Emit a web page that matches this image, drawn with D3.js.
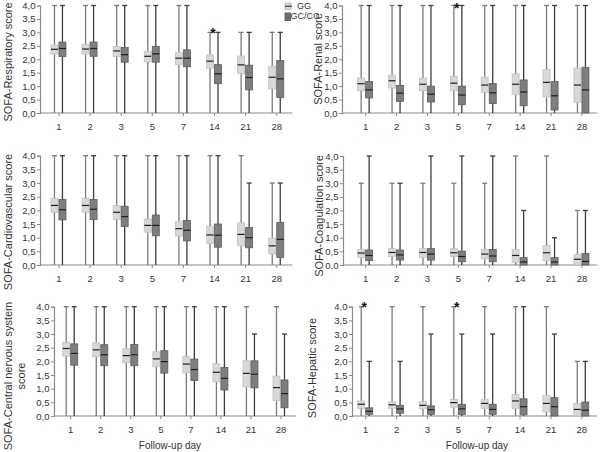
<!DOCTYPE html>
<html><head><meta charset="utf-8">
<script src="https://cdn.jsdelivr.net/npm/d3@7"></script>
<style>body{margin:0;background:#fff}svg{display:block}</style>
</head><body>
<script>
// ---------- DATA ----------
const days = ["1", "2", "3", "5", "7", "14", "21", "28"];
const groups = ["GG", "GC/CC"];
const yTicks = [0, 0.5, 1, 1.5, 2, 2.5, 3, 3.5, 4];
const xTitle = "Follow-up day";

// each entry: [min, q1, median, q3, max]
const respiratoryGG = [[0,2.19,2.37,2.53,4],[0,2.19,2.38,2.56,4],[0,2.10,2.31,2.48,4],[0,1.90,2.11,2.30,4],[0,1.81,2.04,2.26,4],[0,1.67,1.93,2.16,3],[0,1.46,1.79,2.12,3],[0,0.90,1.33,1.74,3]];
const respiratoryGC = [[0,2.10,2.40,2.64,4],[0,2.11,2.40,2.64,4],[0,1.89,2.17,2.44,4],[0,1.89,2.20,2.48,4],[0,1.72,2.04,2.35,4],[0,1.09,1.46,1.80,3],[0,0.86,1.32,1.78,3],[0,0.58,1.27,1.95,3]];
const renalGG = [[0,0.83,1.09,1.30,4],[0,0.93,1.20,1.41,4],[0,0.83,1.07,1.30,4],[0,0.83,1.11,1.37,4],[0,0.77,1.04,1.33,4],[0,0.68,1.07,1.46,4],[0,0.60,1.14,1.62,4],[0,0.40,1.04,1.67,4]];
const renalGC = [[0,0.56,0.86,1.17,4],[0,0.43,0.74,1.02,4],[0,0.41,0.70,1.00,4],[0,0.31,0.67,1.00,4],[0,0.35,0.75,1.10,4],[0,0.27,0.78,1.23,4],[0,0.11,0.64,1.17,4],[0,0.00,0.86,1.70,4]];
const cardiovascularGG = [[0,1.93,2.18,2.44,4],[0,1.93,2.18,2.44,4],[0,1.67,1.93,2.18,4],[0,1.20,1.45,1.68,4],[0,1.06,1.33,1.60,4],[0,0.79,1.10,1.41,4],[0,0.70,1.12,1.54,4],[0,0.40,0.70,0.98,3]];
const cardiovascularGC = [[0,1.65,2.02,2.40,4],[0,1.66,2.04,2.40,4],[0,1.41,1.77,2.15,4],[0,1.07,1.45,1.83,4],[0,0.88,1.27,1.63,4],[0,0.65,1.09,1.50,4],[0,0.63,1.00,1.37,3],[0,0.28,0.94,1.56,3]];
const coagulationGG = [[0,0.28,0.44,0.57,3],[0,0.31,0.46,0.60,3],[0,0.28,0.46,0.60,3],[0,0.31,0.45,0.60,3],[0,0.23,0.40,0.57,3],[0,0.10,0.35,0.57,4],[0,0.16,0.45,0.72,4],[0,0.00,0.21,0.39,2]];
const coagulationGC = [[0,0.16,0.35,0.55,4],[0,0.18,0.37,0.55,3],[0,0.18,0.40,0.60,4],[0,0.12,0.31,0.51,4],[0,0.12,0.33,0.57,4],[0,0.00,0.11,0.27,2],[0,0.00,0.11,0.27,1],[0,0.00,0.13,0.42,2]];
const cnsGG = [[0,2.19,2.47,2.70,4],[0,2.17,2.42,2.68,4],[0,1.95,2.21,2.46,4],[0,1.80,2.09,2.35,4],[0,1.58,1.90,2.17,4],[0,1.25,1.60,1.91,4],[0,1.07,1.56,2.02,4],[0,0.57,1.04,1.46,4]];
const cnsGC = [[0,1.86,2.29,2.64,4],[0,1.84,2.24,2.61,4],[0,1.84,2.24,2.62,4],[0,1.57,1.99,2.39,4],[0,1.30,1.70,2.08,4],[0,0.95,1.38,1.78,4],[0,1.03,1.53,2.02,3],[0,0.30,0.82,1.32,3]];
const hepaticGG = [[0,0.28,0.43,0.55,4],[0,0.28,0.41,0.52,4],[0,0.26,0.39,0.52,4],[0,0.32,0.49,0.61,4],[0,0.28,0.46,0.61,4],[0,0.28,0.55,0.79,4],[0,0.15,0.46,0.76,4],[0,0.00,0.24,0.46,2]];
const hepaticGC = [[0,0.06,0.17,0.30,2],[0,0.10,0.26,0.39,2],[0,0.06,0.23,0.37,3],[0,0.06,0.26,0.43,3],[0,0.06,0.24,0.43,3],[0,0.04,0.34,0.63,4],[0,0.00,0.34,0.67,3],[0,0.00,0.21,0.51,2]];

const respiratorySig = ["14"];
const renalSig = ["5"];
const cardiovascularSig = [];
const coagulationSig = [];
const cnsSig = [];
const hepaticSig = ["1", "5"];

const titles = ["SOFA-Respiratory score", "SOFA-Renal score", "SOFA-Cardiovascular score",
  "SOFA-Coagulation score", ["SOFA-Central nervous system", "score"], "SOFA-Hepatic score"];

// ---------- LAYOUT ----------
const panels = [
  {gg: respiratoryGG, gc: respiratoryGC, sig: respiratorySig, title: titles[0], ax: 40, xr: [43.4, 292.3], yr: [113, 5.5], tx: 8, ty: 62, xt: false},
  {gg: renalGG, gc: renalGC, sig: renalSig, title: titles[1], ax: 342, xr: [350.2, 597.4], yr: [113, 5.5], tx: 318, ty: 59, xt: false},
  {gg: cardiovascularGG, gc: cardiovascularGC, sig: cardiovascularSig, title: titles[2], ax: 40, xr: [43.4, 292.3], yr: [265, 155.7], tx: 8, ty: 222, xt: false},
  {gg: coagulationGG, gc: coagulationGC, sig: coagulationSig, title: titles[3], ax: 343, xr: [350.2, 597.4], yr: [265, 156], tx: 319, ty: 216, xt: false},
  {gg: cnsGG, gc: cnsGC, sig: cnsSig, title: titles[4], ax: 54, xr: [55.7, 296], yr: [416, 306.7], tx: 8, ty: 376, xt: true, xtx: 170},
  {gg: hepaticGG, gc: hepaticGC, sig: hepaticSig, title: titles[5], ax: 352, xr: [350.3, 597.2], yr: [416, 306.7], tx: 312, ty: 368, xt: true, xtx: 477}
];

const FONT = "'Liberation Sans', Arial, sans-serif";
const AXC = "#8a8a8a", TXT = "#333";
const fmt = d => d3.format(".1f")(d).replace(".", ",");

const svg = d3.select("body").append("svg").attr("width", 600).attr("height", 452)
  .style("font-family", FONT);

panels.forEach(p => {
  const x = d3.scaleBand().domain(days).range(p.xr);
  const y = d3.scaleLinear().domain([0, 4]).range(p.yr);
  const g = svg.append("g");

  // y axis
  const ya = g.append("g").attr("transform", `translate(${p.ax},0)`)
    .call(d3.axisLeft(y).tickValues(yTicks).tickFormat(fmt).tickSize(3).tickPadding(1.5));
  ya.select(".domain").attr("stroke", AXC).attr("stroke-width", 1.2);
  ya.selectAll(".tick line").attr("stroke", AXC);
  ya.selectAll("text").attr("fill", TXT).style("font-size", "9.5px").style("font-family", FONT);

  // x axis
  const xa = g.append("g").attr("transform", `translate(0,${y(0)})`)
    .call(d3.axisBottom(x).tickSize(3).tickPadding(7));
  xa.select(".domain").remove();
  g.append("line").attr("x1", p.ax).attr("x2", p.xr[1]).attr("y1", y(0)).attr("y2", y(0))
    .attr("stroke", AXC).attr("stroke-width", 1.2);
  xa.selectAll(".tick line").attr("stroke", AXC);
  xa.selectAll("text").attr("fill", TXT).style("font-size", "9.5px").style("font-family", FONT);

  // title
  const t = g.append("text").attr("transform", `translate(${p.tx},${p.ty}) rotate(-90)`)
    .attr("text-anchor", "middle").attr("fill", TXT).style("font-size", "11px");
  if (Array.isArray(p.title)) {
    p.title.forEach((s, i) => t.append("tspan").attr("x", 0).attr("dy", i === 0 ? "0.35em" : "1.15em").text(s));
  } else {
    t.attr("dy", "0.35em").text(p.title);
  }

  if (p.xt) {
    g.append("text").attr("x", p.xtx).attr("y", 445).attr("dy", "0.35em")
      .attr("text-anchor", "middle").attr("fill", TXT).style("font-size", "10px").text(xTitle);
  }

  // boxes
  const bw = 7, off = [-4.5, 3.5];
  const styles = [
    {fill: "#d8d8d8", stroke: "#c2c2c2", wh: "#7a7a7a"},
    {fill: "#7e7e7e", stroke: "#5e5e5e", wh: "#3c3c3c"}
  ];
  [p.gg, p.gc].forEach((arr, gi) => {
    const st = styles[gi];
    const bg = g.append("g");
    arr.forEach((d, i) => {
      const cx = x(days[i]) + x.bandwidth() / 2 + off[gi];
      const [mn, q1, md, q3, mx] = d;
      bg.append("line").attr("x1", cx).attr("x2", cx).attr("y1", y(mn)).attr("y2", y(mx))
        .attr("stroke", st.wh).attr("stroke-width", 1.3);
      bg.append("line").attr("x1", cx - 2.5).attr("x2", cx + 2.5).attr("y1", y(mx)).attr("y2", y(mx))
        .attr("stroke", st.wh).attr("stroke-width", 1.3);
      bg.append("rect").attr("x", cx - bw / 2).attr("width", bw)
        .attr("y", y(q3)).attr("height", Math.max(0.5, y(q1) - y(q3)))
        .attr("fill", st.fill).attr("stroke", st.stroke).attr("stroke-width", 0.8);
      bg.append("line").attr("x1", cx - bw / 2).attr("x2", cx + bw / 2).attr("y1", y(md)).attr("y2", y(md))
        .attr("stroke", "#1e1e1e").attr("stroke-width", 1.2);
    });
  });

  // significance stars
  p.sig.forEach(dy => {
    const i = days.indexOf(dy);
    const top = Math.max(p.gg[i][4], p.gc[i][4]);
    g.append("text").attr("x", x(dy) + x.bandwidth() / 2 - 1.5).attr("y", Math.max(12.5, y(top) + 5.5))
      .attr("text-anchor", "middle").attr("fill", "#111").style("font-size", "14px")
      .style("font-weight", "bold").text("*");
  });
});

// legend
const leg = svg.append("g").style("font-size", "9px").attr("fill", TXT);
leg.append("rect").attr("x", 285).attr("y", 3).attr("width", 6).attr("height", 6.5)
  .attr("fill", "#d8d8d8").attr("stroke", "#b5b5b5").attr("stroke-width", 0.8);
leg.append("line").attr("x1", 285).attr("x2", 292).attr("y1", 6.2).attr("y2", 6.2).attr("stroke", "#222").attr("stroke-width", 1);
leg.append("text").attr("x", 297).attr("y", 6.3).attr("dy", "0.35em").text(groups[0]);
leg.append("rect").attr("x", 285).attr("y", 13).attr("width", 5.5).attr("height", 7.5)
  .attr("fill", "#6e6e6e").attr("stroke", "#4e4e4e").attr("stroke-width", 0.8);
leg.append("text").attr("x", 290.5).attr("y", 16.3).attr("dy", "0.35em").text(groups[1]);
</script>
</body></html>
